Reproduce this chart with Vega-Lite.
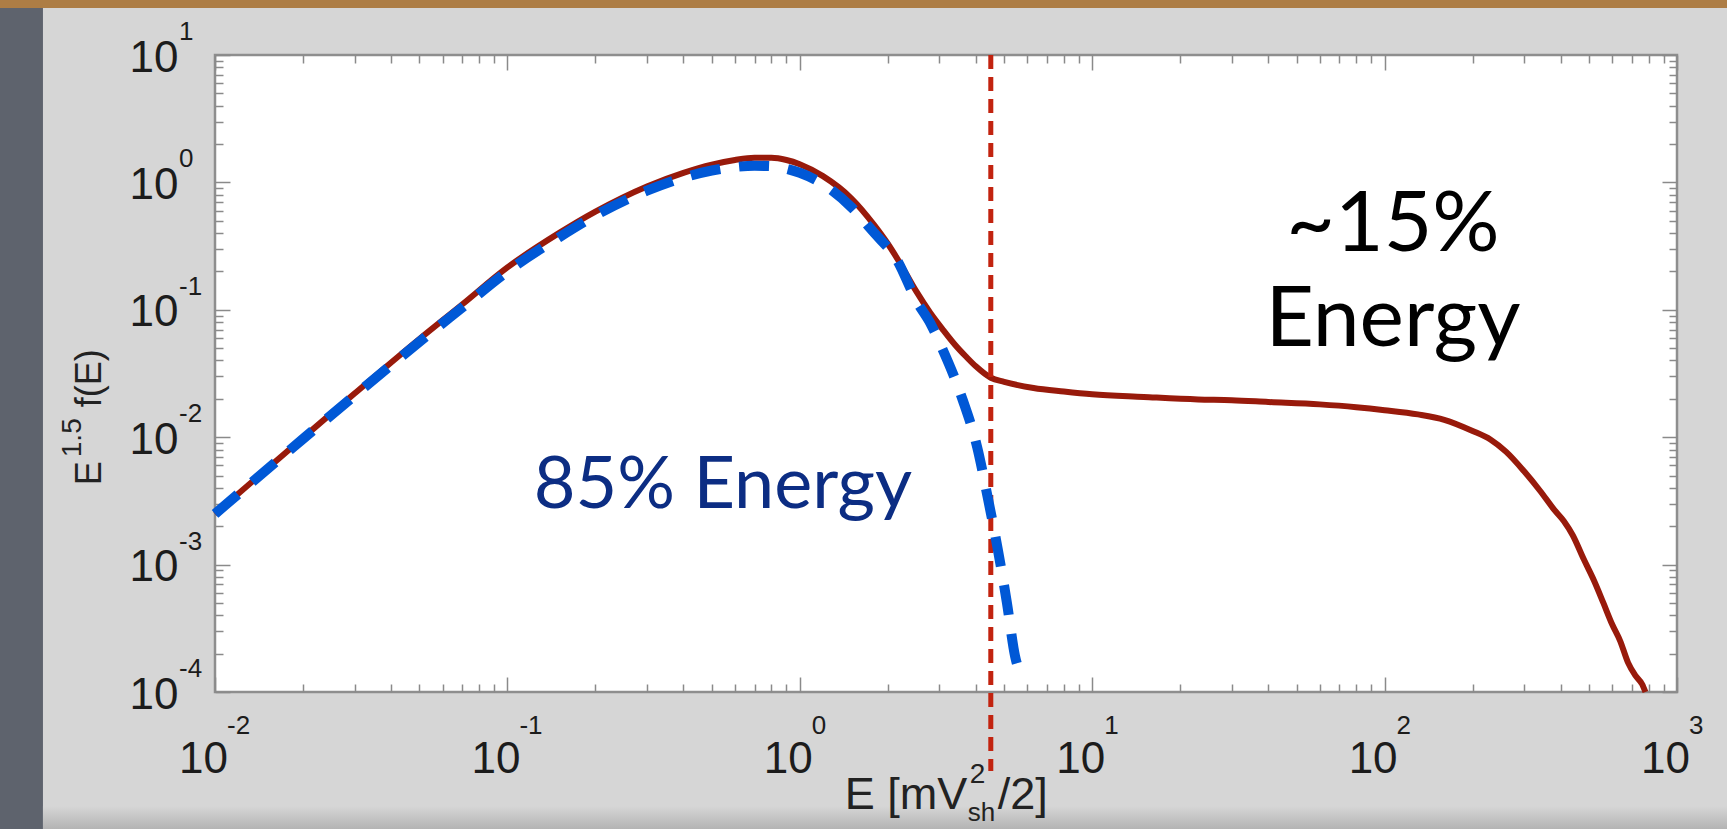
{
  "$schema": "https://vega.github.io/schema/vega-lite/v6.json",
  "width": 1462,
  "height": 637,
  "autosize": {"type": "none"},
  "padding": {"left": 215, "top": 55, "right": 50, "bottom": 137},
  "background": "#d6d6d6",
  "config": {"view": {"fill": "#ffffff", "stroke": "#8e8e8e", "strokeWidth": 2.5}},
  "datasets": {
    "red": [
      {"E": 0.01, "f": 0.0025}, {"E": 0.015, "f": 0.0056}, {"E": 0.02, "f": 0.0099}, {"E": 0.03, "f": 0.022},
      {"E": 0.05, "f": 0.059}, {"E": 0.07, "f": 0.11}, {"E": 0.1, "f": 0.215}, {"E": 0.15, "f": 0.40},
      {"E": 0.2, "f": 0.59}, {"E": 0.3, "f": 0.93}, {"E": 0.4, "f": 1.19}, {"E": 0.5, "f": 1.38},
      {"E": 0.6, "f": 1.50}, {"E": 0.7, "f": 1.56}, {"E": 0.8, "f": 1.56}, {"E": 0.9, "f": 1.50},
      {"E": 1.0, "f": 1.39}, {"E": 1.2, "f": 1.12}, {"E": 1.5, "f": 0.75}, {"E": 1.8, "f": 0.46},
      {"E": 2.0, "f": 0.33}, {"E": 2.2, "f": 0.233}, {"E": 2.5, "f": 0.14}, {"E": 2.8, "f": 0.094},
      {"E": 3.1, "f": 0.069}, {"E": 3.4, "f": 0.053}, {"E": 3.7, "f": 0.043}, {"E": 4.0, "f": 0.036},
      {"E": 4.5, "f": 0.0293}, {"E": 5.0, "f": 0.0272}, {"E": 6.3, "f": 0.0243}, {"E": 8, "f": 0.0228},
      {"E": 10, "f": 0.0217}, {"E": 15, "f": 0.0207}, {"E": 23, "f": 0.0198}, {"E": 30, "f": 0.0195},
      {"E": 40, "f": 0.0189}, {"E": 60, "f": 0.0181}, {"E": 80, "f": 0.0172}, {"E": 100, "f": 0.0163},
      {"E": 130, "f": 0.0151}, {"E": 160, "f": 0.0137}, {"E": 200, "f": 0.0112}, {"E": 230, "f": 0.0096},
      {"E": 260, "f": 0.0077}, {"E": 300, "f": 0.0054}, {"E": 340, "f": 0.0038}, {"E": 380, "f": 0.0027},
      {"E": 410, "f": 0.0022}, {"E": 440, "f": 0.0017}, {"E": 480, "f": 0.0011}, {"E": 520, "f": 0.00075},
      {"E": 560, "f": 0.0005}, {"E": 600, "f": 0.00034}, {"E": 640, "f": 0.00025}, {"E": 680, "f": 0.00017},
      {"E": 720, "f": 0.000135}, {"E": 760, "f": 0.000115}, {"E": 780, "f": 0.0001}
    ],
    "blue": [
      {"E": 0.01, "f": 0.0025}, {"E": 0.02, "f": 0.0097}, {"E": 0.03, "f": 0.0212}, {"E": 0.05, "f": 0.056},
      {"E": 0.07, "f": 0.104}, {"E": 0.1, "f": 0.20}, {"E": 0.15, "f": 0.37}, {"E": 0.2, "f": 0.55},
      {"E": 0.3, "f": 0.86}, {"E": 0.4, "f": 1.09}, {"E": 0.5, "f": 1.24}, {"E": 0.6, "f": 1.32},
      {"E": 0.7, "f": 1.35}, {"E": 0.8, "f": 1.34}, {"E": 0.9, "f": 1.28}, {"E": 1.0, "f": 1.19},
      {"E": 1.2, "f": 0.97}, {"E": 1.5, "f": 0.64}, {"E": 1.8, "f": 0.40}, {"E": 2.14, "f": 0.25},
      {"E": 2.52, "f": 0.115}, {"E": 2.8, "f": 0.078}, {"E": 3.09, "f": 0.048}, {"E": 3.35, "f": 0.031},
      {"E": 3.61, "f": 0.0195}, {"E": 4.04, "f": 0.0084}, {"E": 4.4, "f": 0.0033}, {"E": 4.76, "f": 0.0013},
      {"E": 5.11, "f": 0.0005}, {"E": 5.45, "f": 0.00019}, {"E": 5.63, "f": 0.000145}
    ],
    "xt": [
      {"v": 0.01, "exp": "-2"}, {"v": 0.1, "exp": "-1"}, {"v": 1, "exp": "0"},
      {"v": 10, "exp": "1"}, {"v": 100, "exp": "2"}, {"v": 1000, "exp": "3"}
    ],
    "yt": [
      {"v": 10, "exp": "1"}, {"v": 1, "exp": "0"}, {"v": 0.1, "exp": "-1"},
      {"v": 0.01, "exp": "-2"}, {"v": 0.001, "exp": "-3"}, {"v": 0.0001, "exp": "-4"}
    ]
  },
  "resolve": {"axis": {"x": "independent", "y": "independent"}},
  "layer": [
    {
      "data": {"values": [{"part": "side"}]},
      "mark": {"type": "rect", "color": "#5e636d"},
      "encoding": {
        "x": {"datum": 0.001, "type": "quantitative", "scale": {"type": "log", "domain": [0.01, 1000]}, "axis": null},
        "x2": {"datum": 0.00258},
        "y": {"datum": 1000, "type": "quantitative", "scale": {"type": "log", "domain": [0.0001, 10]}, "axis": null},
        "y2": {"datum": 0.0000001}
      }
    },
    {
      "data": {"values": [{"part": "top"}]},
      "mark": {"type": "rect", "color": "#ad7d45"},
      "encoding": {
        "x": {"datum": 0.001, "type": "quantitative", "scale": {"type": "log", "domain": [0.01, 1000]}, "axis": null},
        "x2": {"datum": 100000},
        "y": {"datum": 1000, "type": "quantitative", "scale": {"type": "log", "domain": [0.0001, 10]}, "axis": null},
        "y2": {"datum": 23.4}
      }
    },
    {
      "data": {"values": [{"part": "bottom"}]},
      "mark": {"type": "rect", "color": {"gradient": "linear", "x1": 0, "y1": 0, "x2": 0, "y2": 1, "stops": [{"offset": 0, "color": "#d6d6d6"}, {"offset": 1, "color": "#a9a9a9"}]}},
      "encoding": {
        "x": {"datum": 0.00258, "type": "quantitative", "scale": {"type": "log", "domain": [0.01, 1000]}, "axis": null},
        "x2": {"datum": 100000},
        "y": {"datum": 0.0000127, "type": "quantitative", "scale": {"type": "log", "domain": [0.0001, 10]}, "axis": null},
        "y2": {"datum": 0.0000074}
      }
    },
    {
      "data": {"name": "red"},
      "mark": {"type": "line", "color": "#981a0b", "strokeWidth": 6, "interpolate": "monotone"},
      "encoding": {
        "x": {"field": "E", "type": "quantitative", "scale": {"type": "log", "domain": [0.01, 1000]},
          "axis": {"orient": "bottom", "values": [0.01, 0.1, 1, 10, 100, 1000], "labelExpr": "'10'", "ticks": false, "tickSize": 0,
            "domain": false, "grid": false, "title": null, "labelFont": "Liberation Sans", "labelFontSize": 44, "labelColor": "#1c1c1c",
            "labelBaseline": "alphabetic", "labelAlign": "center", "labelPadding": 80, "labelOffset": -12, "labelFlush": false, "labelOverlap": false}},
        "y": {"field": "f", "type": "quantitative", "scale": {"type": "log", "domain": [0.0001, 10]},
          "axis": {"orient": "left", "values": [0.0001, 0.001, 0.01, 0.1, 1, 10], "labelExpr": "'10'", "ticks": false, "tickSize": 0,
            "domain": false, "grid": false, "title": null, "labelFont": "Liberation Sans", "labelFontSize": 44, "labelColor": "#1c1c1c",
            "labelBaseline": "middle", "labelAlign": "right", "labelPadding": 37, "labelOffset": 3, "labelFlush": false, "labelOverlap": false}}
      }
    },
    {
      "data": {"values": [{"E": 4.5}]},
      "mark": {"type": "rule", "color": "#c2230f", "strokeWidth": 5, "strokeDash": [14, 8]},
      "encoding": {
        "x": {"field": "E", "type": "quantitative", "scale": {"type": "log", "domain": [0.01, 1000]},
          "axis": {"orient": "bottom", "values": [0.01, 0.1, 1, 10, 100, 1000], "labels": false, "tickSize": -15, "tickColor": "#8a8a8a", "tickWidth": 1.5, "domain": false, "grid": false, "title": null}},
        "y": {"datum": 10, "type": "quantitative", "scale": {"type": "log", "domain": [0.0001, 10]}, "axis": null},
        "y2": {"datum": 0.000024}
      }
    },
    {
      "data": {"name": "blue"},
      "mark": {"type": "line", "color": "#0058d6", "strokeWidth": 10, "strokeDash": [30, 19], "interpolate": "monotone"},
      "encoding": {
        "x": {"field": "E", "type": "quantitative", "scale": {"type": "log", "domain": [0.01, 1000]},
          "axis": {"orient": "bottom", "values": [0.02, 0.03, 0.04, 0.05, 0.06, 0.07, 0.08, 0.09, 0.2, 0.3, 0.4, 0.5, 0.6, 0.7, 0.8, 0.9, 2, 3, 4, 5, 6, 7, 8, 9, 20, 30, 40, 50, 60, 70, 80, 90, 200, 300, 400, 500, 600, 700, 800, 900],
            "labels": false, "tickSize": -8, "tickColor": "#8a8a8a", "tickWidth": 1.5, "domain": false, "grid": false, "title": null}},
        "y": {"field": "f", "type": "quantitative", "scale": {"type": "log", "domain": [0.0001, 10]},
          "axis": {"orient": "left", "values": [0.0002, 0.0003, 0.0004, 0.0005, 0.0006, 0.0007, 0.0008, 0.0009, 0.002, 0.003, 0.004, 0.005, 0.006, 0.007, 0.008, 0.009, 0.02, 0.03, 0.04, 0.05, 0.06, 0.07, 0.08, 0.09, 0.2, 0.3, 0.4, 0.5, 0.6, 0.7, 0.8, 0.9, 2, 3, 4, 5, 6, 7, 8, 9],
            "labels": false, "tickSize": -8, "tickColor": "#8a8a8a", "tickWidth": 1.5, "domain": false, "grid": false, "title": null}}
      }
    },
    {
      "data": {"values": [{"E": 0.546, "f": 0.00278, "t": "85% Energy"}]},
      "mark": {"type": "text", "font": "Lato", "fontSize": 72, "color": "#0c2d83", "align": "center", "baseline": "alphabetic"},
      "encoding": {
        "x": {"field": "E", "type": "quantitative", "scale": {"type": "log", "domain": [0.01, 1000]},
          "axis": {"orient": "top", "values": [0.01, 0.1, 1, 10, 100, 1000], "labels": false, "tickSize": -15, "tickColor": "#8a8a8a", "tickWidth": 1.5, "domain": false, "grid": false, "title": null}},
        "y": {"field": "f", "type": "quantitative", "scale": {"type": "log", "domain": [0.0001, 10]},
          "axis": {"orient": "left", "values": [0.0001, 0.001, 0.01, 0.1, 1, 10], "labels": false, "tickSize": -15, "tickColor": "#8a8a8a", "tickWidth": 1.5, "domain": false, "grid": false, "title": null}},
        "text": {"field": "t"}
      }
    },
    {
      "data": {"values": [{"E": 106.8, "f": 0.287, "t": "~15%"}, {"E": 106.8, "f": 0.052, "t": "Energy"}]},
      "mark": {"type": "text", "font": "Lato", "fontSize": 84, "color": "#000000", "align": "center", "baseline": "alphabetic"},
      "encoding": {
        "x": {"field": "E", "type": "quantitative", "scale": {"type": "log", "domain": [0.01, 1000]},
          "axis": {"orient": "top", "values": [0.02, 0.03, 0.04, 0.05, 0.06, 0.07, 0.08, 0.09, 0.2, 0.3, 0.4, 0.5, 0.6, 0.7, 0.8, 0.9, 2, 3, 4, 5, 6, 7, 8, 9, 20, 30, 40, 50, 60, 70, 80, 90, 200, 300, 400, 500, 600, 700, 800, 900],
            "labels": false, "tickSize": -8, "tickColor": "#8a8a8a", "tickWidth": 1.5, "domain": false, "grid": false, "title": null}},
        "y": {"field": "f", "type": "quantitative", "scale": {"type": "log", "domain": [0.0001, 10]},
          "axis": {"orient": "right", "values": [0.0001, 0.001, 0.01, 0.1, 1, 10], "labels": false, "tickSize": -15, "tickColor": "#8a8a8a", "tickWidth": 1.5, "domain": false, "grid": false, "title": null}},
        "text": {"field": "t"}
      }
    },
    {
      "data": {"name": "xt"},
      "mark": {"type": "text", "font": "Liberation Sans", "fontSize": 26, "color": "#1c1c1c", "align": "left", "baseline": "middle", "dx": 12, "dy": 34},
      "encoding": {
        "x": {"field": "v", "type": "quantitative", "scale": {"type": "log", "domain": [0.01, 1000]}, "axis": null},
        "y": {"datum": 0.0001, "type": "quantitative", "scale": {"type": "log", "domain": [0.0001, 10]}, "axis": null},
        "text": {"field": "exp"}
      }
    },
    {
      "data": {"name": "yt"},
      "mark": {"type": "text", "font": "Liberation Sans", "fontSize": 26, "color": "#1c1c1c", "align": "left", "baseline": "middle", "dx": -36, "dy": -23},
      "encoding": {
        "x": {"datum": 0.01, "type": "quantitative", "scale": {"type": "log", "domain": [0.01, 1000]}, "axis": null},
        "y": {"field": "v", "type": "quantitative", "scale": {"type": "log", "domain": [0.0001, 10]},
          "axis": {"orient": "right", "values": [0.0002, 0.0003, 0.0004, 0.0005, 0.0006, 0.0007, 0.0008, 0.0009, 0.002, 0.003, 0.004, 0.005, 0.006, 0.007, 0.008, 0.009, 0.02, 0.03, 0.04, 0.05, 0.06, 0.07, 0.08, 0.09, 0.2, 0.3, 0.4, 0.5, 0.6, 0.7, 0.8, 0.9, 2, 3, 4, 5, 6, 7, 8, 9],
            "labels": false, "tickSize": -8, "tickColor": "#8a8a8a", "tickWidth": 1.5, "domain": false, "grid": false, "title": null}},
        "text": {"field": "exp"}
      }
    },
    {
      "data": {"values": [{"t": "E [mV"}]},
      "mark": {"type": "text", "font": "Liberation Sans", "fontSize": 45, "color": "#222222", "align": "left", "baseline": "alphabetic", "dx": 45, "dy": 117},
      "encoding": {
        "x": {"datum": 1, "type": "quantitative", "scale": {"type": "log", "domain": [0.01, 1000]}, "axis": null},
        "y": {"datum": 0.0001, "type": "quantitative", "scale": {"type": "log", "domain": [0.0001, 10]}, "axis": null},
        "text": {"field": "t"}
      }
    },
    {
      "data": {"values": [{"t": "2"}]},
      "mark": {"type": "text", "font": "Liberation Sans", "fontSize": 28, "color": "#222222", "align": "left", "baseline": "alphabetic", "dx": 170, "dy": 91},
      "encoding": {
        "x": {"datum": 1, "type": "quantitative", "scale": {"type": "log", "domain": [0.01, 1000]}, "axis": null},
        "y": {"datum": 0.0001, "type": "quantitative", "scale": {"type": "log", "domain": [0.0001, 10]}, "axis": null},
        "text": {"field": "t"}
      }
    },
    {
      "data": {"values": [{"t": "sh"}]},
      "mark": {"type": "text", "font": "Liberation Sans", "fontSize": 26, "color": "#222222", "align": "left", "baseline": "alphabetic", "dx": 168, "dy": 129},
      "encoding": {
        "x": {"datum": 1, "type": "quantitative", "scale": {"type": "log", "domain": [0.01, 1000]}, "axis": null},
        "y": {"datum": 0.0001, "type": "quantitative", "scale": {"type": "log", "domain": [0.0001, 10]}, "axis": null},
        "text": {"field": "t"}
      }
    },
    {
      "data": {"values": [{"t": "/2]"}]},
      "mark": {"type": "text", "font": "Liberation Sans", "fontSize": 45, "color": "#222222", "align": "left", "baseline": "alphabetic", "dx": 198, "dy": 117},
      "encoding": {
        "x": {"datum": 1, "type": "quantitative", "scale": {"type": "log", "domain": [0.01, 1000]}, "axis": null},
        "y": {"datum": 0.0001, "type": "quantitative", "scale": {"type": "log", "domain": [0.0001, 10]}, "axis": null},
        "text": {"field": "t"}
      }
    },
    {
      "data": {"values": [{"t": "E"}]},
      "mark": {"type": "text", "font": "Liberation Sans", "fontSize": 36, "color": "#222222", "align": "left", "baseline": "alphabetic", "angle": 270, "dx": -48, "dy": -114},
      "encoding": {
        "x": {"datum": 0.01, "type": "quantitative", "scale": {"type": "log", "domain": [0.01, 1000]}, "axis": null},
        "y": {"datum": 0.01, "type": "quantitative", "scale": {"type": "log", "domain": [0.0001, 10]}, "axis": null},
        "text": {"field": "t"}
      }
    },
    {
      "data": {"values": [{"t": "1.5"}]},
      "mark": {"type": "text", "font": "Liberation Sans", "fontSize": 28, "color": "#222222", "align": "left", "baseline": "alphabetic", "angle": 270, "dx": -20, "dy": -134},
      "encoding": {
        "x": {"datum": 0.01, "type": "quantitative", "scale": {"type": "log", "domain": [0.01, 1000]}, "axis": null},
        "y": {"datum": 0.01, "type": "quantitative", "scale": {"type": "log", "domain": [0.0001, 10]}, "axis": null},
        "text": {"field": "t"}
      }
    },
    {
      "data": {"values": [{"t": "f(E)"}]},
      "mark": {"type": "text", "font": "Liberation Sans", "fontSize": 36, "color": "#222222", "align": "left", "baseline": "alphabetic", "angle": 270, "dx": 30, "dy": -114},
      "encoding": {
        "x": {"datum": 0.01, "type": "quantitative", "scale": {"type": "log", "domain": [0.01, 1000]}, "axis": null},
        "y": {"datum": 0.01, "type": "quantitative", "scale": {"type": "log", "domain": [0.0001, 10]}, "axis": null},
        "text": {"field": "t"}
      }
    }
  ]
}
